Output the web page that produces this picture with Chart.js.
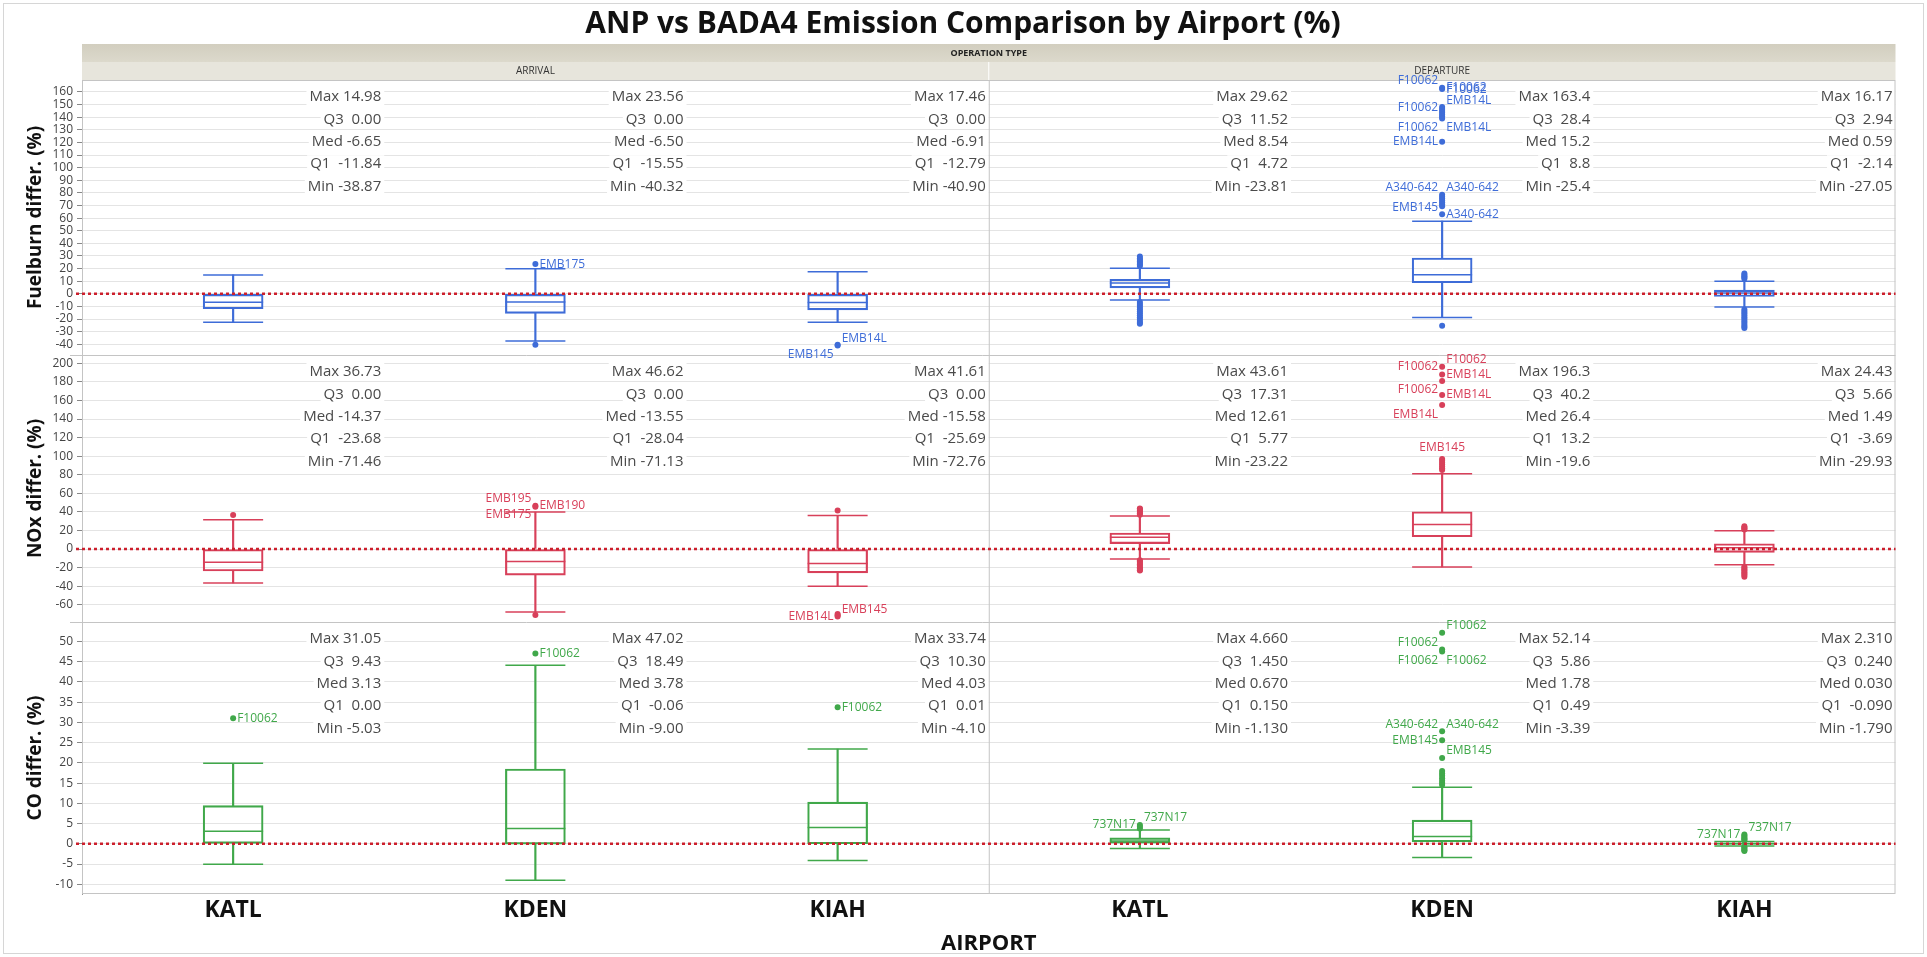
<!DOCTYPE html>
<html>
<head>
<meta charset="utf-8">
<script src="https://cdn.jsdelivr.net/npm/chart.js@4.4.0/dist/chart.umd.min.js"></script>
<style>
  html, body { margin: 0; padding: 0; background: #fff; }
</style>
</head>
<body>
<canvas id="chart" width="1927" height="957"></canvas>
<script>
// categories
const opTypes = ["ARRIVAL", "DEPARTURE"];
const airports = ["KATL", "KDEN", "KIAH"];
const labels = opTypes.flatMap(op => airports.map(a => op + " " + a));

// Fuelburn: summary text, whisker ends, outliers, tagged points
const fuelMax = ["14.98", "23.56", "17.46", "29.62", "163.4", "16.17"];
const fuelQ3 = ["0.00", "0.00", "0.00", "11.52", "28.4", "2.94"];
const fuelMed = ["-6.65", "-6.50", "-6.91", "8.54", "15.2", "0.59"];
const fuelQ1 = ["-11.84", "-15.55", "-12.79", "4.72", "8.8", "-2.14"];
const fuelMin = ["-38.87", "-40.32", "-40.90", "-23.81", "-25.4", "-27.05"];
const fuelWhiskerHigh = [14.98, 19.8, 17.46, 20.2, 57.6, 10];
const fuelWhiskerLow = [-22.5, -37.5, -22.5, -5, -18.8, -10.5];
const fuelOutliers = [
  [1, 23.56], [1, -40.32],
  [2, -40.9], [2, -40.3],
  [3, 22], [3, 23.2], [3, 24.4], [3, 25.6], [3, 26.8], [3, 28], [3, 29.62],
  [3, -6.5], [3, -8], [3, -9.5], [3, -11], [3, -12.5], [3, -14], [3, -15.5], [3, -17], [3, -18.5], [3, -20], [3, -21.5], [3, -23], [3, -23.81],
  [4, 163.4], [4, 162.3], [4, 148], [4, 146.5], [4, 145], [4, 143.5], [4, 142], [4, 140.5], [4, 139], [4, 120.5],
  [4, 78.5], [4, 77], [4, 75.5], [4, 74], [4, 72.5], [4, 71], [4, 69.5], [4, 63], [4, -25.4],
  [5, 12], [5, 13], [5, 14], [5, 15], [5, 16.17],
  [5, -12.5], [5, -14], [5, -15.5], [5, -17], [5, -18.5], [5, -20], [5, -21.5], [5, -23], [5, -24.5], [5, -26], [5, -27.05]
];
const fuelTags = [
  [1, 23.56, "EMB175"],
  [2, -40.9, "EMB145"], [2, -40.9, "EMB14L"],
  [4, 163.4, "F10062"], [4, 163.4, "F10062"], [4, 162.3, "F10062"],
  [4, 148, "F10062"], [4, 148, "EMB14L"], [4, 139, "F10062"], [4, 139, "EMB14L"], [4, 120.5, "EMB14L"],
  [4, 78.5, "A340-642"], [4, 78.5, "A340-642"], [4, 63, "EMB145"], [4, 63, "A340-642"]
];
const fuelTagPos = ["r", "lb", "ra", "la", "r", "r", "l", "ra", "lb", "rb", "l", "la", "ra", "la", "r"];

// NOx
const noxMax = ["36.73", "46.62", "41.61", "43.61", "196.3", "24.43"];
const noxQ3 = ["0.00", "0.00", "0.00", "17.31", "40.2", "5.66"];
const noxMed = ["-14.37", "-13.55", "-15.58", "12.61", "26.4", "1.49"];
const noxQ1 = ["-23.68", "-28.04", "-25.69", "5.77", "13.2", "-3.69"];
const noxMin = ["-71.46", "-71.13", "-72.76", "-23.22", "-19.6", "-29.93"];
const noxWhiskerHigh = [31.6, 39.8, 36.2, 35.5, 81, 19.8];
const noxWhiskerLow = [-36.6, -67.8, -40, -10.8, -19.4, -17];
const noxOutliers = [
  [0, 36.73],
  [1, 46.62], [1, 45.6], [1, -71.13],
  [2, 41.61], [2, -70], [2, -71.4], [2, -72.76],
  [3, 37], [3, 38.5], [3, 40], [3, 41.5], [3, 43], [3, 43.61],
  [3, -12], [3, -13.5], [3, -15], [3, -16.5], [3, -18], [3, -19.5], [3, -21], [3, -22.5], [3, -23.22],
  [4, 196.3], [4, 188], [4, 181], [4, 166], [4, 155],
  [4, 85], [4, 87], [4, 89], [4, 91], [4, 93], [4, 95], [4, 97],
  [5, 21], [5, 22], [5, 23.2], [5, 24.43],
  [5, -19], [5, -20.5], [5, -22], [5, -23.5], [5, -25], [5, -26.5], [5, -28], [5, -29.93]
];
const noxTags = [
  [1, 46.62, "EMB195"], [1, 46.62, "EMB190"], [1, 46.62, "EMB175"],
  [2, -72.76, "EMB14L"], [2, -72.76, "EMB145"],
  [4, 196.3, "F10062"], [4, 196.3, "F10062"], [4, 188, "EMB14L"], [4, 181, "F10062"], [4, 166, "EMB14L"], [4, 155, "EMB14L"],
  [4, 97, "EMB145"]
];
const noxTagPos = ["la", "r", "lb", "l", "ra", "ra", "l", "r", "lb", "r", "lb", "a"];

// CO
const coMax = ["31.05", "47.02", "33.74", "4.660", "52.14", "2.310"];
const coQ3 = ["9.43", "18.49", "10.30", "1.450", "5.86", "0.240"];
const coMed = ["3.13", "3.78", "4.03", "0.670", "1.78", "0.030"];
const coQ1 = ["0.00", "-0.06", "0.01", "0.150", "0.49", "-0.090"];
const coMin = ["-5.03", "-9.00", "-4.10", "-1.130", "-3.39", "-1.790"];
const coWhiskerHigh = [19.9, 44.1, 23.4, 3.4, 14, 0.6];
const coWhiskerLow = [-5.03, -9, -4.1, -1.13, -3.39, -0.55];
const coOutliers = [
  [0, 31.05], [1, 47.02], [2, 33.74],
  [3, 3.8], [3, 4.2], [3, 4.66],
  [4, 52.14], [4, 48], [4, 47.5], [4, 27.8], [4, 25.6], [4, 21.2],
  [4, 18], [4, 17.4], [4, 16.8], [4, 16.2], [4, 15.6], [4, 15], [4, 14.5],
  [5, 2.31], [5, 2], [5, 1.7], [5, 1.4], [5, 1.1], [5, 0.8],
  [5, -0.7], [5, -1], [5, -1.3], [5, -1.6], [5, -1.79]
];
const coTags = [
  [0, 31.05, "F10062"], [1, 47.02, "F10062"], [2, 33.74, "F10062"],
  [3, 4.66, "737N17"], [3, 4.66, "737N17"],
  [4, 52.14, "F10062"], [4, 48, "F10062"], [4, 47.5, "F10062"], [4, 47.5, "F10062"],
  [4, 27.8, "A340-642"], [4, 27.8, "A340-642"], [4, 25.6, "EMB145"], [4, 21.2, "EMB145"],
  [5, 2.31, "737N17"], [5, 2.31, "737N17"]
];
const coTagPos = ["r", "r", "r", "l", "ra", "ra", "la", "lb", "rb", "la", "ra", "l", "ra", "l", "ra"];

const FONT = "'Open Sans', 'Noto Sans', sans-serif";

const rows = [
  { id: "yF", title: "Fuelburn differ. (%)", color: "#3e6cd8",
    max: fuelMax, q3: fuelQ3, med: fuelMed, q1: fuelQ1, min: fuelMin,
    hi: fuelWhiskerHigh, lo: fuelWhiskerLow, out: fuelOutliers, tags: fuelTags, tagPos: fuelTagPos },
  { id: "yN", title: "NOx differ. (%)", color: "#d8405a",
    max: noxMax, q3: noxQ3, med: noxMed, q1: noxQ1, min: noxMin,
    hi: noxWhiskerHigh, lo: noxWhiskerLow, out: noxOutliers, tags: noxTags, tagPos: noxTagPos },
  { id: "yC", title: "CO differ. (%)", color: "#40a84a",
    max: coMax, q3: coQ3, med: coMed, q1: coQ1, min: coMin,
    hi: coWhiskerHigh, lo: coWhiskerLow, out: coOutliers, tags: coTags, tagPos: coTagPos }
];

function rowDatasets(r) {
  const q1 = r.q1.map(Number), q3 = r.q3.map(Number), med = r.med.map(Number);
  const stem = { type: "bar", yAxisID: r.id, grouped: false, barThickness: 1.5,
    backgroundColor: r.color, borderWidth: 0 };
  const tick = { type: "line", yAxisID: r.id, showLine: false, pointStyle: "line",
    pointRadius: 30, pointBorderWidth: 1.5, pointBorderColor: r.color, borderColor: r.color };
  return [
    Object.assign({ data: q1.map((v, i) => [r.lo[i], v]) }, stem),
    Object.assign({ data: q3.map((v, i) => [v, r.hi[i]]) }, stem),
    { type: "bar", yAxisID: r.id, grouped: false, barThickness: 60,
      data: q1.map((v, i) => [v, q3[i]]),
      backgroundColor: "rgba(0,0,0,0)", borderColor: r.color, borderWidth: 1.5, borderSkipped: false },
    Object.assign({ data: med }, tick),
    Object.assign({ data: r.hi }, tick),
    Object.assign({ data: r.lo }, tick),
    { type: "line", yAxisID: r.id, showLine: false, pointStyle: "circle", pointRadius: 3,
      data: r.out.map(([c, v]) => ({ x: labels[c], y: v })),
      pointBackgroundColor: r.color, pointBorderColor: r.color, pointBorderWidth: 0, borderColor: r.color }
  ];
}

function yAxis(r, min, max, step, weight) {
  return {
    type: "linear", position: "left", stack: "rows", stackWeight: weight,
    min: min, max: max,
    afterFit: (s) => { s.width = 76; },
    border: { color: "#9a9a9a" },
    grid: { color: "#e4e4e4", tickColor: "#888", tickLength: 5 },
    ticks: { stepSize: step, autoSkip: false, includeBounds: false, padding: 4,
      color: "#444", font: { family: FONT, size: 12 } },
    title: { display: true, text: r.title, color: "#111", padding: { top: 18, bottom: 0 },
      font: { family: FONT, size: 19, weight: "bold" } }
  };
}

const decor = {
  id: "decor",
  beforeDraw(chart) {
    const { ctx, chartArea: a, scales } = chart;
    const xs = scales.x;
    const mid = xs.getPixelForValue(2.5);
    ctx.save();
    ctx.fillStyle = "#fff";
    ctx.fillRect(0, 0, chart.width, chart.height);
    ctx.strokeStyle = "#d6d6d6";
    ctx.lineWidth = 1;
    ctx.strokeRect(3.5, 3.5, chart.width - 7, chart.height - 7);
    // operation type header
    const g = ctx.createLinearGradient(0, a.top - 36, 0, a.top - 18);
    g.addColorStop(0, "#d2cebf");
    g.addColorStop(1, "#dcd9cc");
    ctx.fillStyle = g;
    ctx.fillRect(a.left, a.top - 36, a.right - a.left, 18);
    ctx.fillStyle = "#e7e5dc";
    ctx.fillRect(a.left, a.top - 18, a.right - a.left, 18);
    ctx.strokeStyle = "#fff";
    ctx.beginPath();
    ctx.moveTo(mid, a.top - 18); ctx.lineTo(mid, a.top);
    ctx.stroke();
    ctx.fillStyle = "#222";
    ctx.textAlign = "center";
    ctx.textBaseline = "middle";
    ctx.font = "bold 9px " + FONT;
    ctx.fillText("OPERATION TYPE", (a.left + a.right) / 2, a.top - 27);
    ctx.font = "10px " + FONT;
    ctx.fillStyle = "#333";
    ctx.fillText(opTypes[0], (a.left + mid) / 2, a.top - 9);
    ctx.fillText(opTypes[1], (mid + a.right) / 2, a.top - 9);
    ctx.restore();
  },
  beforeDatasetsDraw(chart) {
    const { ctx, scales } = chart;
    const xs = scales.x;
    const half = (xs.getPixelForValue(1) - xs.getPixelForValue(0)) / 2;
    ctx.save();
    ctx.font = "15px " + FONT;
    ctx.textAlign = "right";
    ctx.textBaseline = "middle";
    rows.forEach(r => {
      const ys = scales[r.id];
      labels.forEach((l, c) => {
        const lines = ["Max " + r.max[c], "Q3  " + r.q3[c], "Med " + r.med[c], "Q1  " + r.q1[c], "Min " + r.min[c]];
        const xr = xs.getPixelForValue(c) + half - 3;
        lines.forEach((t, i) => {
          const y = ys.top + 17 + i * 22.4;
          const w = ctx.measureText(t).width;
          ctx.fillStyle = "#fff";
          ctx.fillRect(xr - w - 3, y - 9, w + 6, 18);
          ctx.fillStyle = "#4a4a4a";
          ctx.fillText(t, xr, y);
        });
      });
    });
    ctx.restore();
  },
  afterDatasetsDraw(chart) {
    const { ctx, chartArea: a, scales } = chart;
    const xs = scales.x;
    const mid = xs.getPixelForValue(2.5);
    ctx.save();
    // frame, row separators, group divider
    ctx.strokeStyle = "#c4c4c4";
    ctx.lineWidth = 1;
    ctx.strokeRect(a.left + 0.5, a.top + 0.5, a.right - a.left - 1, a.bottom - a.top - 1);
    ctx.beginPath();
    ctx.moveTo(mid + 0.5, a.top); ctx.lineTo(mid + 0.5, a.bottom);
    ["yN", "yC"].forEach(id => {
      const t = Math.round(scales[id].top) + 0.5;
      ctx.moveTo(a.left - 12, t); ctx.lineTo(a.right, t);
    });
    ctx.stroke();
    // zero reference lines
    ctx.strokeStyle = "#cc1f2c";
    ctx.lineWidth = 2.5;
    ctx.setLineDash([3, 3]);
    rows.forEach(r => {
      const y = scales[r.id].getPixelForValue(0);
      ctx.beginPath();
      ctx.moveTo(a.left - 6, y); ctx.lineTo(a.right, y);
      ctx.stroke();
    });
    ctx.setLineDash([]);
    // point tags
    ctx.font = "12px " + FONT;
    ctx.textBaseline = "middle";
    rows.forEach(r => {
      const ys = scales[r.id];
      ctx.fillStyle = r.color;
      r.tags.forEach(([c, v, t], i) => {
        const p = r.tagPos[i];
        const x = xs.getPixelForValue(c);
        const y = ys.getPixelForValue(v);
        let dx = 0, dy = 0;
        if (p === "a") { ctx.textAlign = "center"; dy = -11; }
        else {
          ctx.textAlign = p[0] === "l" ? "right" : "left";
          dx = p[0] === "l" ? -4 : 4;
          if (p[1] === "a") dy = -7;
          if (p[1] === "b") dy = 9;
        }
        ctx.fillText(t, x + dx, y + dy);
      });
    });
    ctx.restore();
  }
};

new Chart(document.getElementById("chart"), {
  type: "bar",
  data: {
    labels: labels,
    datasets: rows.flatMap(rowDatasets)
  },
  options: {
    responsive: false,
    animation: false,
    events: [],
    layout: { padding: { left: 6, right: 7, top: 0, bottom: 0 } },
    plugins: {
      legend: { display: false },
      tooltip: { enabled: false },
      title: {
        display: true,
        text: "ANP vs BADA4 Emission Comparison by Airport (%)",
        color: "#111",
        font: { family: FONT, size: 30, weight: "bold" },
        padding: { top: 6, bottom: 38 }
      }
    },
    scales: {
      x: {
        type: "category",
        grid: { display: false, drawTicks: false },
        border: { display: false },
        ticks: {
          autoSkip: false, maxRotation: 0, padding: 3, color: "#111",
          font: { family: FONT, size: 23, weight: "bold" },
          callback: (v, i) => airports[i % airports.length]
        },
        title: {
          display: true, text: "AIRPORT", color: "#111",
          padding: { top: 3, bottom: 0 },
          font: { family: FONT, size: 22, weight: "bold" }
        }
      },
      // left stacks are laid out last-defined on top
      yC: yAxis(rows[2], -12.4, 54.8, 5, 273),
      yN: yAxis(rows[1], -78.6, 209, 20, 268),
      yF: yAxis(rows[0], -48.5, 169.5, 10, 276)
    }
  },
  plugins: [decor]
});
</script>
</body>
</html>
